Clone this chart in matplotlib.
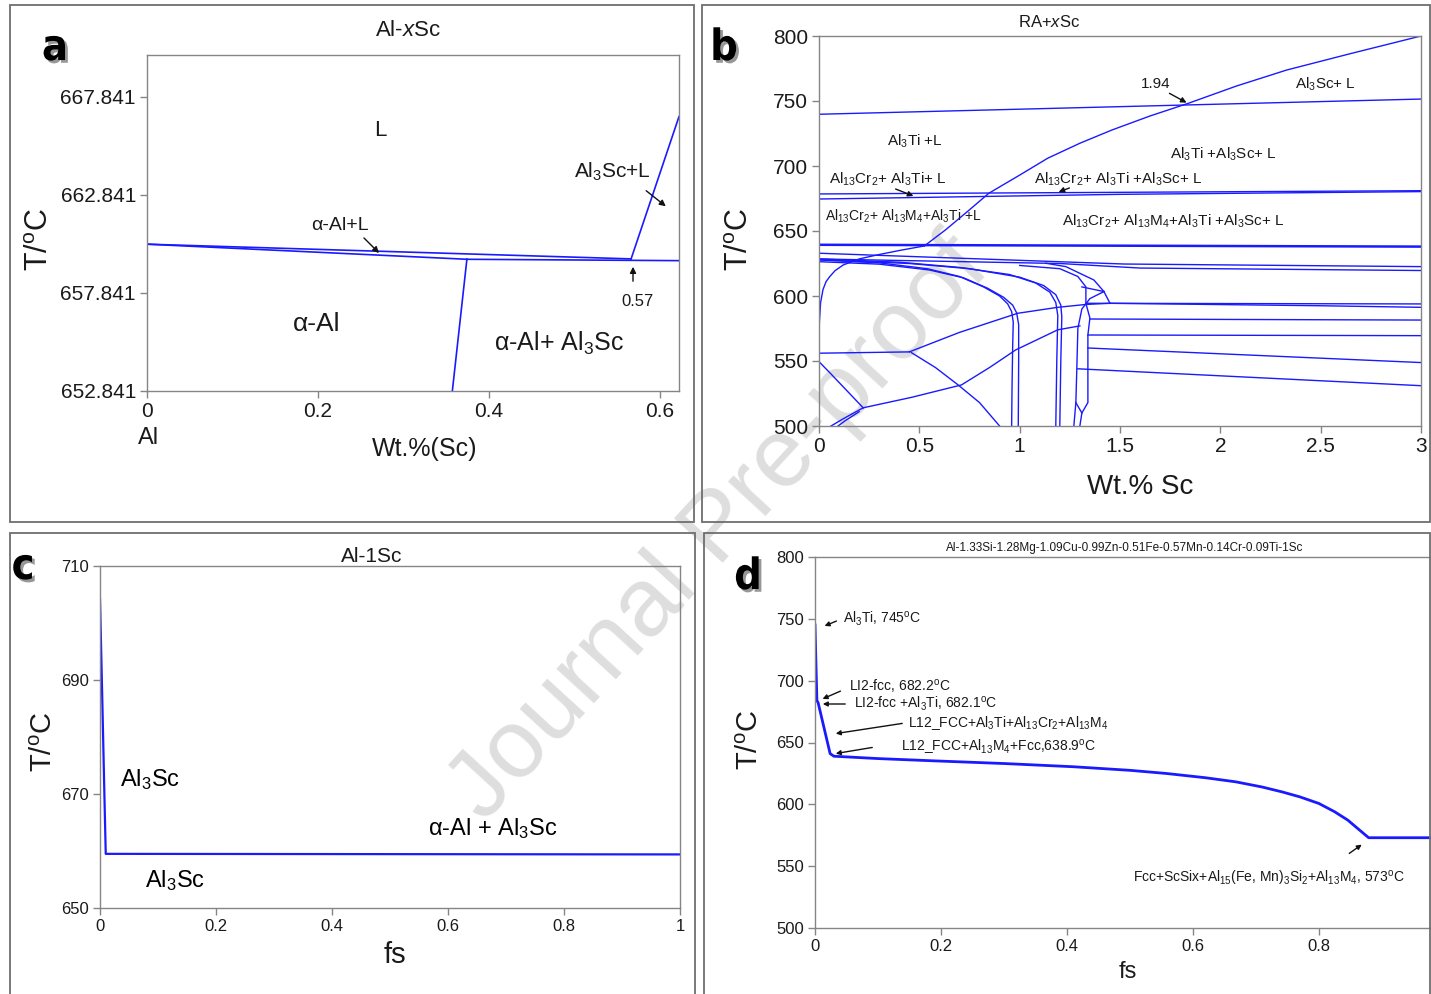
import matplotlib.pyplot as plt
import matplotlib.patheffects as pe
from matplotlib.patches import Rectangle, FancyArrowPatch

W, H = 1431, 994
plt.rcParams['font.family'] = ['Liberation Sans', 'DejaVu Sans']
plt.rcParams['mathtext.fontset'] = 'custom'
plt.rcParams['mathtext.rm'] = 'Liberation Sans'
plt.rcParams['mathtext.it'] = 'Liberation Sans:italic'
plt.rcParams['mathtext.default'] = 'regular'

BLUE = '#1a1aff'
GRAY = '#858585'
NARROW = ['Liberation Sans Narrow', 'Liberation Sans', 'DejaVu Sans']

# ---------------- panel a : Al-xSc phase diagram
a_liq_x = [0, 0.566]
a_liq_T = [660.33, 659.58]
a_sol_x = [0, 0.374]
a_sol_T = [660.33, 659.56]
a_eut_x = [0.374, 0.622]
a_eut_T = [659.56, 659.49]
a_solvus_x = [0.374, 0.357]
a_solvus_T = [659.56, 652.841]
a_scliq_x = [0.566, 0.622]
a_scliq_T = [659.58, 666.84]
a_xticks = [0, 0.2, 0.4, 0.6]
a_yticks = [652.841, 657.841, 662.841, 667.841]

# ---------------- panel b : RA+xSc isopleth (x = wt.% Sc, T in C)
b_ti_liq = ([0, 3], [739.8, 751.5])
b_sc_liq = ([0.525, 0.63, 0.74, 0.846, 1.0, 1.14, 1.3, 1.46, 1.65, 1.84, 2.08, 2.33, 2.65, 3.0],
            [638.5, 650.8, 665, 679, 693, 706, 717.5, 727.7, 738.5, 748.2, 761.5, 773.8, 786.5, 800])
b_cr_up = ([0, 3], [678.5, 681])
b_cr_low = ([0, 1.5, 3], [674.6, 678.2, 680.3])
b_m4_line = ([0, 3], [639.4, 638.0])
b_l6 = ([0, 1.52, 3], [632.9, 624.6, 622.6])
b_l7 = ([0, 1.2, 1.6, 3], [628.5, 625.0, 621.5, 619.6])
b_sc_solvus = ([0.0, 0.002, 0.008, 0.02, 0.035, 0.054, 0.08, 0.121, 0.2, 0.29, 0.4, 0.525],
               [566, 580, 595, 605, 611, 615, 619.5, 623.9, 628.5, 631.6, 635, 638.5])
b_c1a = ([0, 0.3, 0.54, 0.7, 0.82, 0.9, 0.94, 0.96, 0.968, 0.965, 0.962, 0.96],
         [627.7, 625.5, 621, 615, 607, 600, 594, 588, 580, 560, 530, 500])
b_c1b = ([0, 0.3, 0.55, 0.72, 0.84, 0.92, 0.965, 0.985, 0.995, 0.995, 0.993],
         [626.4, 624.5, 620, 614, 606, 599, 593, 587, 578, 550, 500])
b_c2a = ([0, 0.4, 0.7, 0.95, 1.08, 1.15, 1.18, 1.19, 1.185, 1.18],
         [628.5, 626, 622, 616.5, 610, 603, 595, 585, 550, 500])
b_c2b = ([0, 0.45, 0.75, 1.0, 1.12, 1.18, 1.205, 1.21, 1.205, 1.2],
         [627.9, 625, 621, 614.5, 608, 601, 593, 584, 550, 500])
b_k1 = ([1.13, 1.23, 1.37, 1.42, 1.45], [625.2, 622.6, 612.3, 603.4, 594.4])
b_k2 = ([1.0, 1.2, 1.29, 1.33, 1.33, 1.35, 1.34, 1.34, 1.34, 1.31, 1.3],
        [623.5, 621, 615, 607, 594.4, 583, 570, 560, 518, 510, 500])
b_k3 = ([1.42, 1.35, 1.31, 1.29, 1.285, 1.28, 1.31],
        [603.4, 598, 590, 575, 545, 518, 510])
b_k4 = ([1.31, 1.42], [607, 603.4])
b_k5 = ([1.28, 1.27], [518, 500])
b_n1 = ([0, 0.45], [556, 557])
b_n2 = ([0.45, 0.7, 0.99, 1.19, 1.33, 1.45], [557, 572, 586.7, 591.3, 593.5, 594.4])
b_n3 = ([0.46, 0.58, 0.69, 0.8, 0.9], [556.5, 545, 532, 518, 500])
b_n4 = ([0, 0.06, 0.14, 0.22], [549.5, 540, 527, 514])
b_n5 = ([0.22, 0.46, 0.71, 0.85, 0.98, 1.19, 1.3], [514, 522, 531.6, 545, 558.5, 574, 577])
b_n6 = ([0.22, 0.12, 0.06], [514, 505.5, 500])
b_n7 = ([0.2, 0.13, 0.095], [511, 504, 500])
b_h1 = ([1.33, 3], [594.4, 593.9])
b_h2 = ([1.45, 2.5, 3], [594.4, 592.5, 591.3])
b_h3 = ([1.35, 3], [582.3, 581.5])
b_h4 = ([1.34, 3], [570, 569.5])
b_h5 = ([1.34, 3], [560, 548.8])
b_h6 = ([1.29, 3], [544, 531])
b_xticks = [0, 0.5, 1, 1.5, 2, 2.5, 3]
b_xlabels = ['0', '0.5', '1', '1.5', '2', '2.5', '3']
b_yticks = [500, 550, 600, 650, 700, 750, 800]

# ---------------- panel c : Al-1Sc Scheil
c_fs = [0.0, 0.004, 0.0076, 0.0099, 1.0]
c_T = [704.2, 686.3, 669.8, 659.5, 659.4]
c_xticks = [0, 0.2, 0.4, 0.6, 0.8, 1]
c_xlabels = ['0', '0.2', '0.4', '0.6', '0.8', '1']
c_yticks = [650, 670, 690, 710]

# ---------------- panel d : alloy Scheil
d_fs = [0, 0.003, 0.005, 0.024, 0.03, 0.1, 0.187, 0.3, 0.41, 0.5, 0.557, 0.62, 0.668,
        0.71, 0.742, 0.77, 0.80, 0.825, 0.846, 0.865, 0.879, 0.976]
d_T = [745, 684, 682.1, 641, 638.9, 637, 635.2, 633, 630.4, 627.5, 625, 621.5, 618.2,
       614, 610, 606, 600.7, 594, 587.2, 579, 573, 573]
d_xticks = [0, 0.2, 0.4, 0.6, 0.8]
d_xlabels = ['0', '0.2', '0.4', '0.6', '0.8']
d_yticks = [500, 550, 600, 650, 700, 750, 800]

fig = plt.figure(figsize=(W / 100, H / 100), dpi=100)


def box(l, t, r, b):
    ax = fig.add_axes([l / W, 1 - b / H, (r - l) / W, (b - t) / H])
    ax.set_facecolor('none')
    return ax


def style(ax, size, family=None):
    for s in ax.spines.values():
        s.set_color(GRAY)
        s.set_linewidth(1.0)
    ax.tick_params(color=GRAY, direction='out', length=5, width=1, labelsize=size,
                   labelcolor='#1a1a1a', pad=3)
    if family:
        for lab in ax.get_xticklabels() + ax.get_yticklabels():
            lab.set_family(family)


def put(px, py, s, size, ha='center', va='center', **kw):
    fig.text(px / W, 1 - py / H, s, fontsize=size, ha=ha, va=va, color='#1a1a1a', **kw)


def arrow(x0, y0, x1, y1, ms=9, lw=1.0):
    fig.add_artist(FancyArrowPatch((x0 / W, 1 - y0 / H), (x1 / W, 1 - y1 / H),
                                   transform=fig.transFigure, arrowstyle='-|>',
                                   mutation_scale=ms, color='#111111', lw=lw))


def tag(px, py, s):
    fig.text(px / W, 1 - py / H, s, fontsize=31, fontweight='bold', family='DejaVu Sans',
             fontstretch='condensed', ha='center', va='center', color='k',
             path_effects=[pe.withSimplePatchShadow(offset=(2, -2), shadow_rgbFace='0.55', alpha=0.9)])


# watermark behind everything
fig.text(720 / W, 1 - 530 / H, 'Journal Pre-proof', rotation=47.5, fontsize=70,
         color='#dedede', ha='center', va='center', zorder=-5)

# panel frames
for l, t, r, b in [(10, 5, 694, 522), (702, 5, 1430, 522), (10, 533, 695, 1000), (704, 533, 1430, 1000)]:
    fig.add_artist(Rectangle((l / W, 1 - b / H), (r - l) / W, (b - t) / H, transform=fig.transFigure,
                             fill=False, edgecolor='#6e6e6e', lw=1.3))

# ---------------- panel a
ax = box(147, 55, 679, 391)
for xs, ts in [(a_liq_x, a_liq_T), (a_sol_x, a_sol_T), (a_eut_x, a_eut_T),
               (a_solvus_x, a_solvus_T), (a_scliq_x, a_scliq_T)]:
    ax.plot(xs, ts, color=BLUE, lw=1.2)
ax.set_xlim(0, 0.622)
ax.set_ylim(652.841, 669.98)
ax.set_xticks(a_xticks, ['0', '0.2', '0.4', '0.6'])
ax.set_yticks(a_yticks, [f'{v:.3f}' for v in a_yticks])
style(ax, 15)
tag(55, 48, 'a')
put(408, 31, r'Al-$\mathit{x}$Sc', 16)
put(380, 131, 'L', 16)
put(612, 172, r'Al$_3$Sc+L', 15)
arrow(644, 189, 668, 208)
put(340, 226, 'α-Al+L', 14)
arrow(362, 236, 381, 255)
put(638, 302, '0.57', 12)
arrow(633, 284, 633, 264)
put(317, 324, 'α-Al', 19)
put(559, 343, r'α-Al+ Al$_3$Sc', 18)
put(149, 438, 'Al', 17)
put(425, 449, 'Wt.%(Sc)', 18)
put(40, 240, r'T/$^o$C', 22, rotation=90)

# ---------------- panel b
ax = box(819, 36, 1421, 426)
for xs, ts in [b_ti_liq, b_sc_liq, b_cr_up, b_cr_low, b_l6, b_l7, b_sc_solvus,
               b_c1a, b_c1b, b_c2a, b_c2b, b_k1, b_k2, b_k3, b_k4, b_k5,
               b_n1, b_n2, b_n3, b_n4, b_n5, b_n6, b_n7,
               b_h1, b_h2, b_h3, b_h4, b_h5, b_h6]:
    ax.plot(xs, ts, color=BLUE, lw=1.0)
ax.plot(*b_m4_line, color=BLUE, lw=1.8)
ax.set_xlim(0, 3)
ax.set_ylim(500, 800)
ax.set_xticks(b_xticks, b_xlabels)
ax.set_yticks(b_yticks)
style(ax, 15)
tag(724, 48, 'b')
put(1049, 22, r'RA+$\mathit{x}$Sc', 12)
put(1156, 84, '1.94', 11)
arrow(1167, 92, 1189, 104, ms=8)
put(1325, 84, r'Al$_3$Sc+ L', 11)
put(915, 141, r'Al$_3$Ti +L', 11)
put(1223, 154, r'Al$_3$Ti +Al$_3$Sc+ L', 11)
put(888, 179, r'Al$_{13}$Cr$_2$+ Al$_3$Ti+ L', 11)
arrow(893, 188, 916, 197, ms=8)
put(1118, 179, r'Al$_{13}$Cr$_2$+ Al$_3$Ti +Al$_3$Sc+ L', 11)
arrow(1072, 187, 1056, 193, ms=8)
put(903, 216, r'Al$_{13}$Cr$_2$+ Al$_{13}$M$_4$+Al$_3$Ti +L', 10)
put(1173, 221, r'Al$_{13}$Cr$_2$+ Al$_{13}$M$_4$+Al$_3$Ti +Al$_3$Sc+ L', 11)
put(1140, 487, 'Wt.% Sc', 20)
put(740, 240, r'T/$^o$C', 22, rotation=90)

# ---------------- panel c
ax = box(100, 566, 680, 908)
ax.plot(c_fs, c_T, color=BLUE, lw=1.6)
ax.set_xlim(0, 1)
ax.set_ylim(650, 710)
ax.set_xticks(c_xticks, c_xlabels)
ax.set_yticks(c_yticks)
style(ax, 12, NARROW)
ax.text(0.086, 672.5, r'Al$_3$Sc', fontsize=17, ha='center', va='center')
ax.text(0.129, 654.8, r'Al$_3$Sc', fontsize=17, ha='center', va='center')
ax.text(0.678, 663.9, r'α-Al + Al$_3$Sc', fontsize=17, ha='center', va='center')
tag(23, 567, 'c')
put(372, 556, 'Al-1Sc', 15)
put(395, 955, 'fs', 21)
put(44, 742, r'T/$^o$C', 21, rotation=90)

# ---------------- panel d
ax = box(815, 557, 1431, 928)
ax.plot(d_fs, d_T, color=BLUE, lw=2.0)
ax.set_xlim(0, 0.978)
ax.set_ylim(500, 800)
ax.set_xticks(d_xticks, d_xlabels)
ax.set_yticks(d_yticks)
ax.spines['right'].set_visible(False)
style(ax, 12, NARROW)
tag(748, 577, 'd')
put(1125, 548, 'Al-1.33Si-1.28Mg-1.09Cu-0.99Zn-0.51Fe-0.57Mn-0.14Cr-0.09Ti-1Sc', 8.5, family=NARROW)
put(843, 619, r'Al$_3$Ti, 745$^o$C', 10, ha='left', family=NARROW)
arrow(839, 620, 822, 627, ms=7)
put(849, 686, r'LI2-fcc, 682.2$^o$C', 10, ha='left', family=NARROW)
arrow(843, 690, 820, 700, ms=7)
put(854, 704, r'LI2-fcc +Al$_3$Ti, 682.1$^o$C', 10, ha='left', family=NARROW)
arrow(848, 704, 820, 704, ms=7)
put(908, 723, r'L12_FCC+Al$_3$Ti+Al$_{13}$Cr$_2$+Al$_{13}$M$_4$', 10, ha='left', family=NARROW)
arrow(905, 723, 833, 734, ms=7)
put(901, 747, r'L12_FCC+Al$_{13}$M$_4$+Fcc,638.9$^o$C', 10, ha='left', family=NARROW)
arrow(875, 747, 833, 754, ms=7)
put(1133, 878, r'Fcc+ScSix+Al$_{15}$(Fe, Mn)$_3$Si$_2$+Al$_{13}$M$_4$, 573$^o$C', 10, ha='left', family=NARROW)
arrow(1347, 855, 1364, 843, ms=7)
put(1128, 972, 'fs', 17)
put(750, 740, r'T/$^o$C', 21, rotation=90)

fig.savefig('out.png', dpi=100)
